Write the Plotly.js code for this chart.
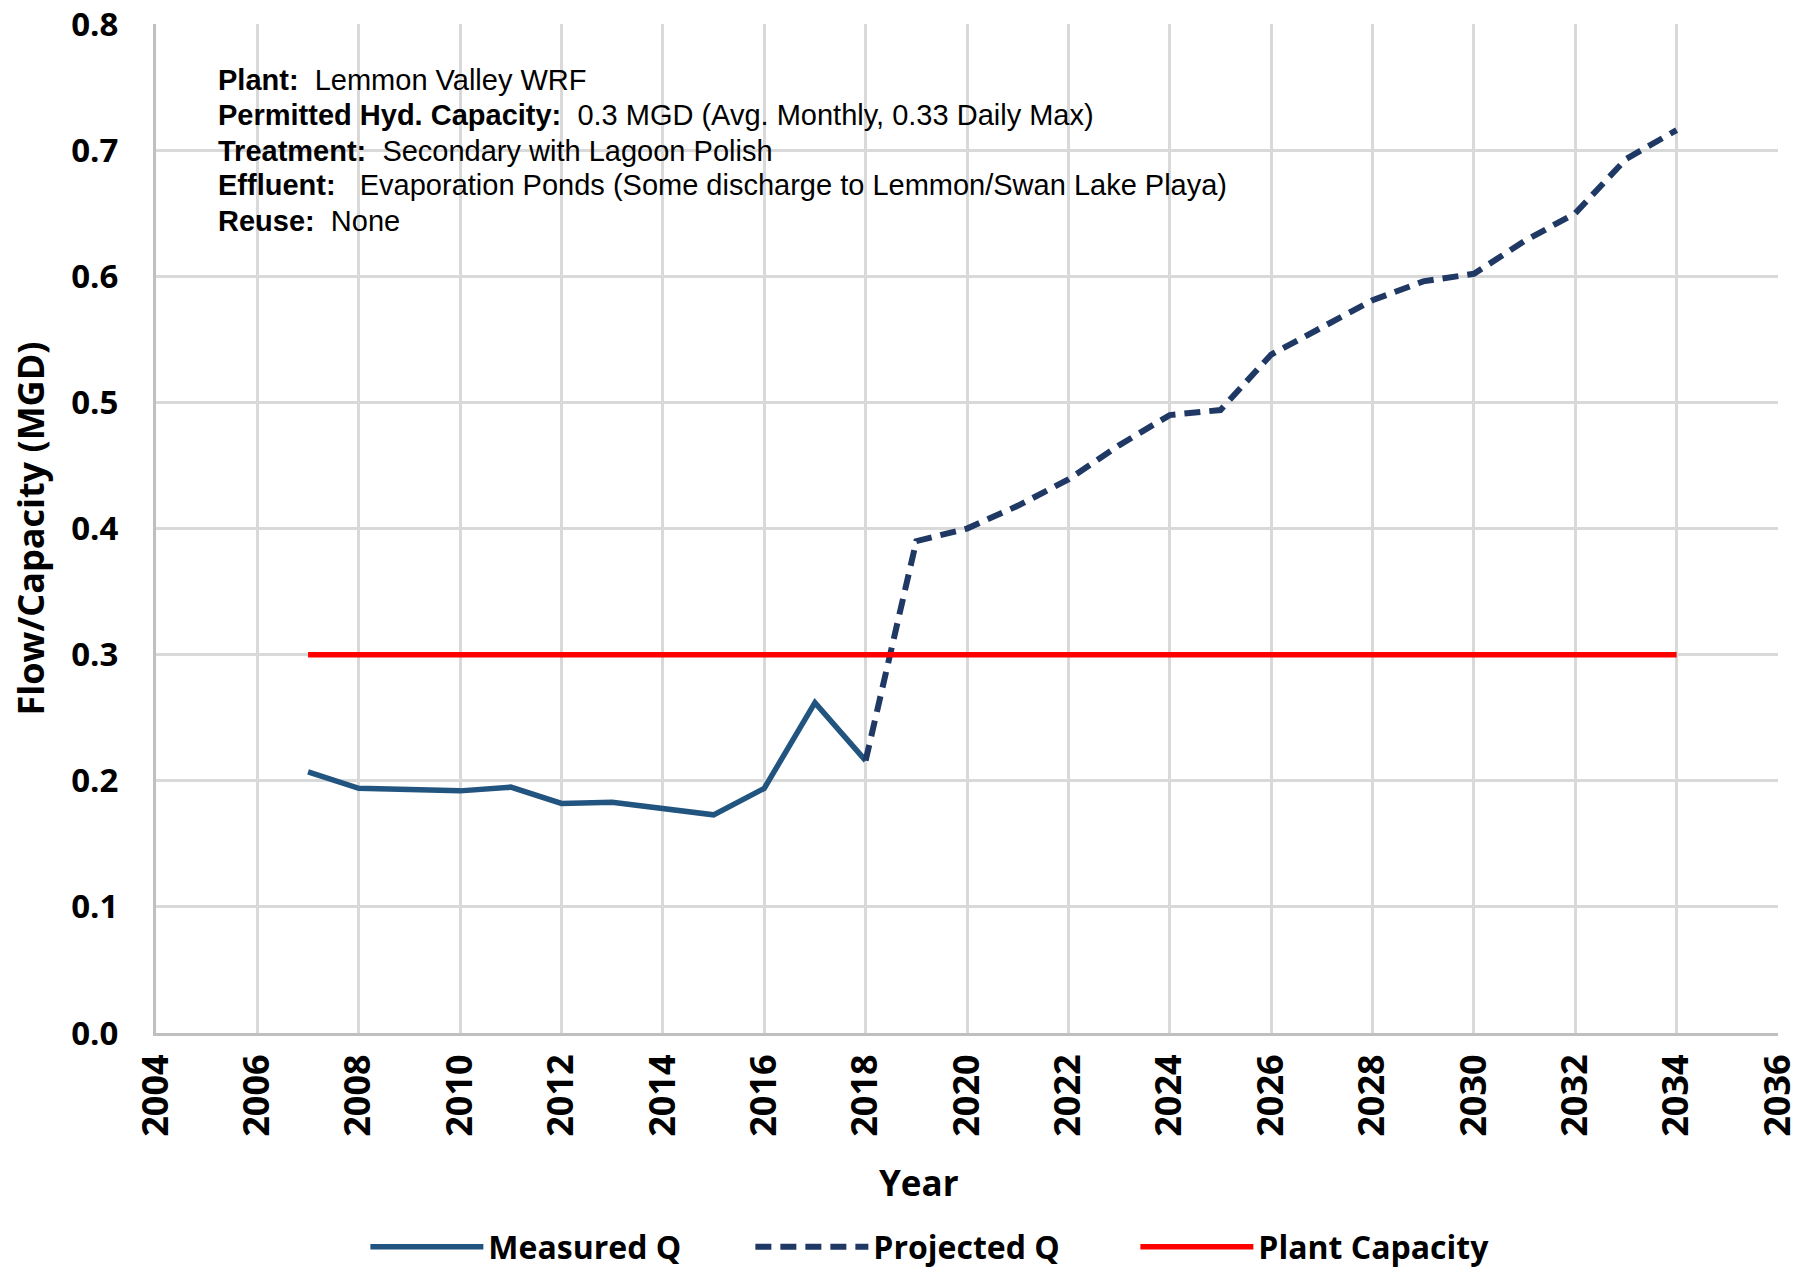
<!DOCTYPE html>
<html>
<head>
<meta charset="utf-8">
<script src="https://cdn.plot.ly/plotly-3.0.1.min.js"></script>
<style>html,body{margin:0;padding:0;background:#fff;}#chart{width:1808px;height:1273px;}</style>
</head>
<body>
<div id="chart"></div>
<script>
// Measured flow (MGD)
const measuredYears = [2007, 2008, 2009, 2010, 2011, 2012, 2013, 2014, 2015, 2016, 2017, 2018];
const measuredQ     = [0.207, 0.194, 0.193, 0.192, 0.195, 0.182, 0.183, 0.178, 0.173, 0.194, 0.262, 0.216];

// Projected flow (MGD)
const projectedYears = [2018, 2019, 2020, 2021, 2022, 2023, 2024, 2025, 2026, 2027, 2028, 2029, 2030, 2031, 2032, 2033, 2034];
const projectedQ     = [0.216, 0.390, 0.400, 0.418, 0.439, 0.466, 0.490, 0.494, 0.538, 0.559, 0.581, 0.596, 0.602, 0.628, 0.650, 0.693, 0.716];

// Plant capacity (MGD)
const capacityYears = [2007, 2034];
const capacityQ     = [0.3, 0.3];

const xTicks = [2004, 2006, 2008, 2010, 2012, 2014, 2016, 2018, 2020, 2022, 2024, 2026, 2028, 2030, 2032, 2034, 2036];
const yTicks = [0, 0.1, 0.2, 0.3, 0.4, 0.5, 0.6, 0.7, 0.8];
const yTickText = ["0.0", "0.1", "0.2", "0.3", "0.4", "0.5", "0.6", "0.7", "0.8"];

const infoLines = [
  ["Plant:", "Lemmon Valley WRF"],
  ["Permitted Hyd. Capacity:", "0.3 MGD (Avg. Monthly, 0.33 Daily Max)"],
  ["Treatment:", "Secondary with Lagoon Polish"],
  ["Effluent:", "\u00a0Evaporation Ponds (Some discharge to Lemmon/Swan Lake Playa)"],
  ["Reuse:", "None"]
];
const infoLineY = [0.9445, 0.9100, 0.8745, 0.8400, 0.8045];

const boldFont = '"Open Sans", "Noto Sans", sans-serif';
const textFont = '"Liberation Sans", Arial, sans-serif';

const traces = [
  {x: measuredYears, y: measuredQ, name: 'Measured Q', type: 'scatter', mode: 'lines',
   line: {color: '#225480', width: 5.5}},
  {x: projectedYears, y: projectedQ, name: 'Projected Q', type: 'scatter', mode: 'lines',
   line: {color: '#1f3864', width: 6, dash: '16px,9px'}},
  {x: capacityYears, y: capacityQ, name: 'Plant Capacity', type: 'scatter', mode: 'lines',
   line: {color: '#ff0000', width: 5.5}}
];

const annotations = infoLines.map((l, i) => ({
  xref: 'paper', yref: 'paper', x: 0.037, y: infoLineY[i], xanchor: 'left', yanchor: 'middle',
  align: 'left', showarrow: false, text: '<b>' + l[0] + '</b>\u00a0\u00a0' + l[1],
  font: {family: textFont, size: 29, color: '#000'}
}));
annotations.push({
  xref: 'paper', yref: 'paper', x: 0.4704, y: -0.148, xanchor: 'center', yanchor: 'middle',
  showarrow: false, text: '<b>Year</b>',
  font: {family: boldFont, size: 35, color: '#000'}
});
annotations.push({
  xref: 'paper', yref: 'paper', x: -0.0771, y: 0.5, xanchor: 'center', yanchor: 'middle',
  textangle: -90, showarrow: false, text: '<b>Flow/Capacity (MGD)</b>',
  font: {family: boldFont, size: 36, color: '#000'}
});

const layout = {
  width: 1808, height: 1273,
  margin: {l: 156, r: 30, t: 24, b: 240},
  paper_bgcolor: '#ffffff', plot_bgcolor: '#ffffff',
  showlegend: true,
  legend: {orientation: 'h', xref: 'container', yref: 'container',
           x: 0.5215, xanchor: 'center', y: 0.0205, yanchor: 'middle',
           font: {family: boldFont, size: 32, color: '#000', weight: 'bold'},
           itemwidth: 113, entrywidth: 257, entrywidthmode: 'pixels', tracegroupgap: 0},
  xaxis: {
    range: [2004, 2036], tickvals: xTicks, ticktext: xTicks.map(String), tickangle: -90,
    showgrid: true, gridcolor: '#d9d9d9', gridwidth: 3, automargin: false,
    showline: true, linecolor: '#bfbfbf', linewidth: 3, zeroline: false,
    ticks: '', ticklabelstandoff: 4, ticklabeloverflow: 'allow',
    tickfont: {family: boldFont, size: 36, color: '#000', weight: 'bold'}
  },
  yaxis: {
    range: [0, 0.8001], tickvals: yTicks, ticktext: yTickText,
    showgrid: true, gridcolor: '#d9d9d9', gridwidth: 3, automargin: false,
    showline: true, linecolor: '#bfbfbf', linewidth: 3, zeroline: false,
    ticks: '', ticklabelstandoff: 28, ticklabeloverflow: 'allow',
    tickfont: {family: boldFont, size: 33, color: '#000', weight: 'bold'}
  },
  annotations: annotations
};

Plotly.newPlot('chart', traces, layout, {displayModeBar: false, staticPlot: true});
</script>
</body>
</html>
